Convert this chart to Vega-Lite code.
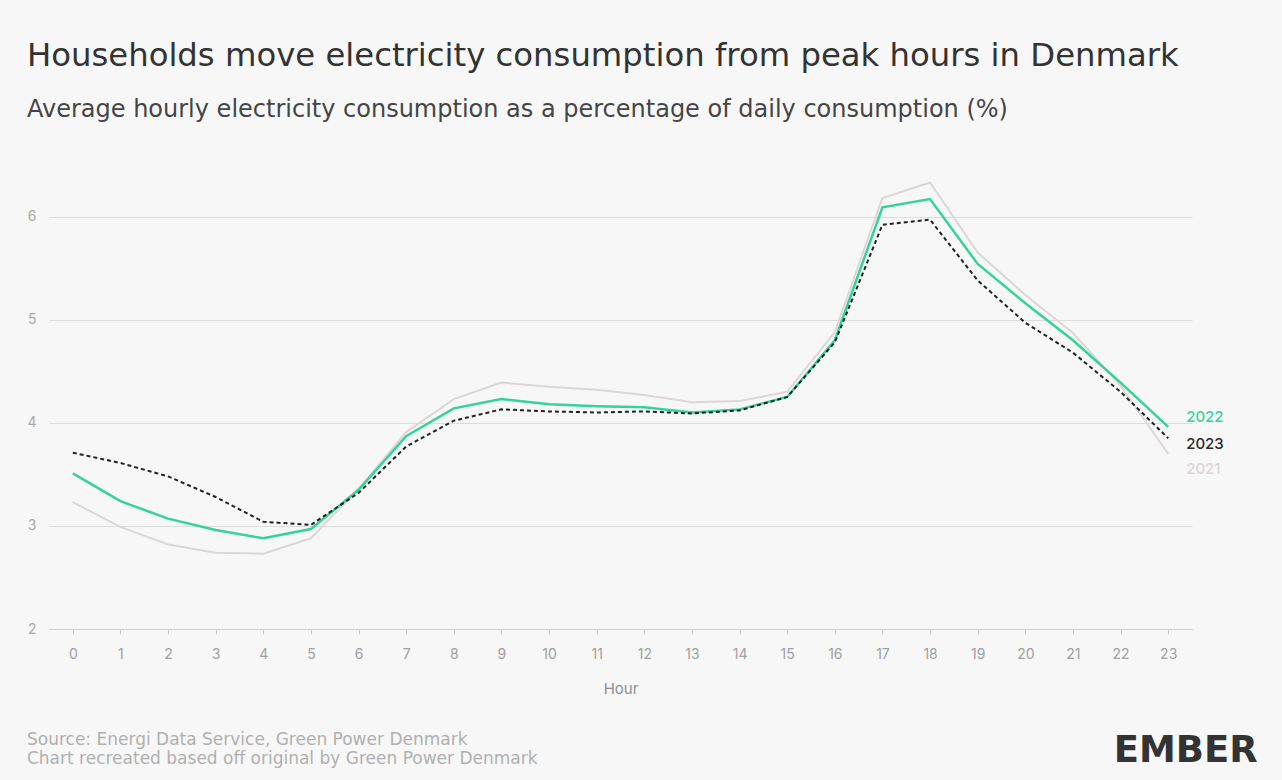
{
  "$schema": "https://vega.github.io/schema/vega-lite/v6.json",
  "background": "#f7f7f7",
  "padding": {"left": 26, "top": 39, "right": 26, "bottom": 14},
  "config": {"font": "Inter", "view": {"stroke": null}},
  "title": {
    "text": "Households move electricity consumption from peak hours in Denmark",
    "subtitle": "Average hourly electricity consumption as a percentage of daily consumption (%)",
    "anchor": "start",
    "frame": "bounds",
    "font": "DejaVu Sans",
    "fontSize": 32.3,
    "fontWeight": 400,
    "color": "#333333",
    "subtitleFont": "DejaVu Sans",
    "subtitleFontSize": 24,
    "subtitleColor": "#454545",
    "subtitlePadding": 26,
    "offset": 43
  },
  "vconcat": [
    {
      "title": {
        "text": "EMBER",
        "orient": "bottom",
        "anchor": "end",
        "frame": "bounds",
        "font": "DejaVu Sans",
        "fontSize": 37,
        "fontWeight": "bold",
        "color": "#333333",
        "offset": -34,
        "dx": 34
      },
      "vconcat": [
        {
          "title": {
            "text": ["Source: Energi Data Service, Green Power Denmark", "Chart recreated based off original by Green Power Denmark"],
            "orient": "bottom",
            "anchor": "start",
            "frame": "bounds",
            "font": "DejaVu Sans",
            "fontSize": 17,
            "fontWeight": 400,
            "lineHeight": 19,
            "color": "#b0b0b0",
            "offset": 36
          },
          "width": 1143,
          "height": 464,
          "data": {
            "values": [
              {"hour": 0, "year": "2021", "value": 3.23},
              {"hour": 1, "year": "2021", "value": 2.99},
              {"hour": 2, "year": "2021", "value": 2.82},
              {"hour": 3, "year": "2021", "value": 2.74},
              {"hour": 4, "year": "2021", "value": 2.73},
              {"hour": 5, "year": "2021", "value": 2.88},
              {"hour": 6, "year": "2021", "value": 3.36},
              {"hour": 7, "year": "2021", "value": 3.91},
              {"hour": 8, "year": "2021", "value": 4.23},
              {"hour": 9, "year": "2021", "value": 4.39},
              {"hour": 10, "year": "2021", "value": 4.35},
              {"hour": 11, "year": "2021", "value": 4.32},
              {"hour": 12, "year": "2021", "value": 4.27},
              {"hour": 13, "year": "2021", "value": 4.2},
              {"hour": 14, "year": "2021", "value": 4.21},
              {"hour": 15, "year": "2021", "value": 4.3},
              {"hour": 16, "year": "2021", "value": 4.88},
              {"hour": 17, "year": "2021", "value": 6.18},
              {"hour": 18, "year": "2021", "value": 6.33},
              {"hour": 19, "year": "2021", "value": 5.65},
              {"hour": 20, "year": "2021", "value": 5.24},
              {"hour": 21, "year": "2021", "value": 4.87},
              {"hour": 22, "year": "2021", "value": 4.36},
              {"hour": 23, "year": "2021", "value": 3.7},
              {"hour": 0, "year": "2022", "value": 3.51},
              {"hour": 1, "year": "2022", "value": 3.24},
              {"hour": 2, "year": "2022", "value": 3.07},
              {"hour": 3, "year": "2022", "value": 2.96},
              {"hour": 4, "year": "2022", "value": 2.88},
              {"hour": 5, "year": "2022", "value": 2.97},
              {"hour": 6, "year": "2022", "value": 3.35},
              {"hour": 7, "year": "2022", "value": 3.87},
              {"hour": 8, "year": "2022", "value": 4.14},
              {"hour": 9, "year": "2022", "value": 4.23},
              {"hour": 10, "year": "2022", "value": 4.18},
              {"hour": 11, "year": "2022", "value": 4.16},
              {"hour": 12, "year": "2022", "value": 4.15},
              {"hour": 13, "year": "2022", "value": 4.1},
              {"hour": 14, "year": "2022", "value": 4.13},
              {"hour": 15, "year": "2022", "value": 4.25},
              {"hour": 16, "year": "2022", "value": 4.8},
              {"hour": 17, "year": "2022", "value": 6.09},
              {"hour": 18, "year": "2022", "value": 6.17},
              {"hour": 19, "year": "2022", "value": 5.54},
              {"hour": 20, "year": "2022", "value": 5.16},
              {"hour": 21, "year": "2022", "value": 4.8},
              {"hour": 22, "year": "2022", "value": 4.39},
              {"hour": 23, "year": "2022", "value": 3.96},
              {"hour": 0, "year": "2023", "value": 3.71},
              {"hour": 1, "year": "2023", "value": 3.61},
              {"hour": 2, "year": "2023", "value": 3.48},
              {"hour": 3, "year": "2023", "value": 3.28},
              {"hour": 4, "year": "2023", "value": 3.04},
              {"hour": 5, "year": "2023", "value": 3.01},
              {"hour": 6, "year": "2023", "value": 3.32},
              {"hour": 7, "year": "2023", "value": 3.77},
              {"hour": 8, "year": "2023", "value": 4.02},
              {"hour": 9, "year": "2023", "value": 4.13},
              {"hour": 10, "year": "2023", "value": 4.11},
              {"hour": 11, "year": "2023", "value": 4.1},
              {"hour": 12, "year": "2023", "value": 4.11},
              {"hour": 13, "year": "2023", "value": 4.09},
              {"hour": 14, "year": "2023", "value": 4.12},
              {"hour": 15, "year": "2023", "value": 4.25},
              {"hour": 16, "year": "2023", "value": 4.78},
              {"hour": 17, "year": "2023", "value": 5.92},
              {"hour": 18, "year": "2023", "value": 5.97},
              {"hour": 19, "year": "2023", "value": 5.38},
              {"hour": 20, "year": "2023", "value": 4.97},
              {"hour": 21, "year": "2023", "value": 4.68},
              {"hour": 22, "year": "2023", "value": 4.3},
              {"hour": 23, "year": "2023", "value": 3.85}
            ]
          },
          "encoding": {
            "x": {
              "field": "hour",
              "type": "ordinal",
              "scale": {"type": "point", "padding": 0.5},
              "axis": {
                "title": "Hour",
                "labelAngle": 0,
                "labelFontSize": 14,
                "labelColor": "#a0a0a0",
                "labelPadding": 13,
                "domainColor": "#d0d0d0",
                "tickColor": "#c8c8c8",
                "tickSize": 5,
                "titleFontSize": 15,
                "titleFontWeight": 400,
                "titleColor": "#909090",
                "titlePadding": 20,
                "grid": false
              }
            },
            "y": {
              "field": "value",
              "type": "quantitative",
              "scale": {"domain": [2, 6.5], "nice": false, "zero": false},
              "axis": {
                "title": null,
                "values": [2, 3, 4, 5, 6],
                "domain": false,
                "ticks": false,
                "labelFontSize": 14,
                "labelColor": "#a8a8a8",
                "labelPadding": 13,
                "gridColor": "#dcdcdc",
                "gridWidth": 1
              }
            }
          },
          "layer": [
            {
              "transform": [{"filter": "datum.year == '2021'"}],
              "mark": {"type": "line", "color": "#ddd6d6", "strokeWidth": 2}
            },
            {
              "transform": [{"filter": "datum.year == '2022'"}],
              "mark": {"type": "line", "color": "#34d39a", "strokeWidth": 2.5}
            },
            {
              "transform": [{"filter": "datum.year == '2023'"}],
              "mark": {"type": "line", "color": "#222222", "strokeWidth": 2, "strokeDash": [4, 3]}
            },
            {
              "transform": [{"filter": "datum.year == '2022' && datum.hour == 23"}],
              "mark": {"type": "text", "align": "left", "baseline": "middle", "dx": 18, "dy": -10, "fontSize": 15, "fontWeight": 500, "color": "#34d39a"},
              "encoding": {"text": {"field": "year"}}
            },
            {
              "transform": [{"filter": "datum.year == '2023' && datum.hour == 23"}],
              "mark": {"type": "text", "align": "left", "baseline": "middle", "dx": 18, "dy": 6, "fontSize": 15, "fontWeight": 500, "color": "#2a2a2a"},
              "encoding": {"text": {"field": "year"}}
            },
            {
              "transform": [{"filter": "datum.year == '2021' && datum.hour == 23"}],
              "mark": {"type": "text", "align": "left", "baseline": "middle", "dx": 18, "dy": 15, "fontSize": 15, "fontWeight": 500, "color": "#dcd6d6"},
              "encoding": {"text": {"field": "year"}}
            }
          ]
        }
      ]
    }
  ]
}
